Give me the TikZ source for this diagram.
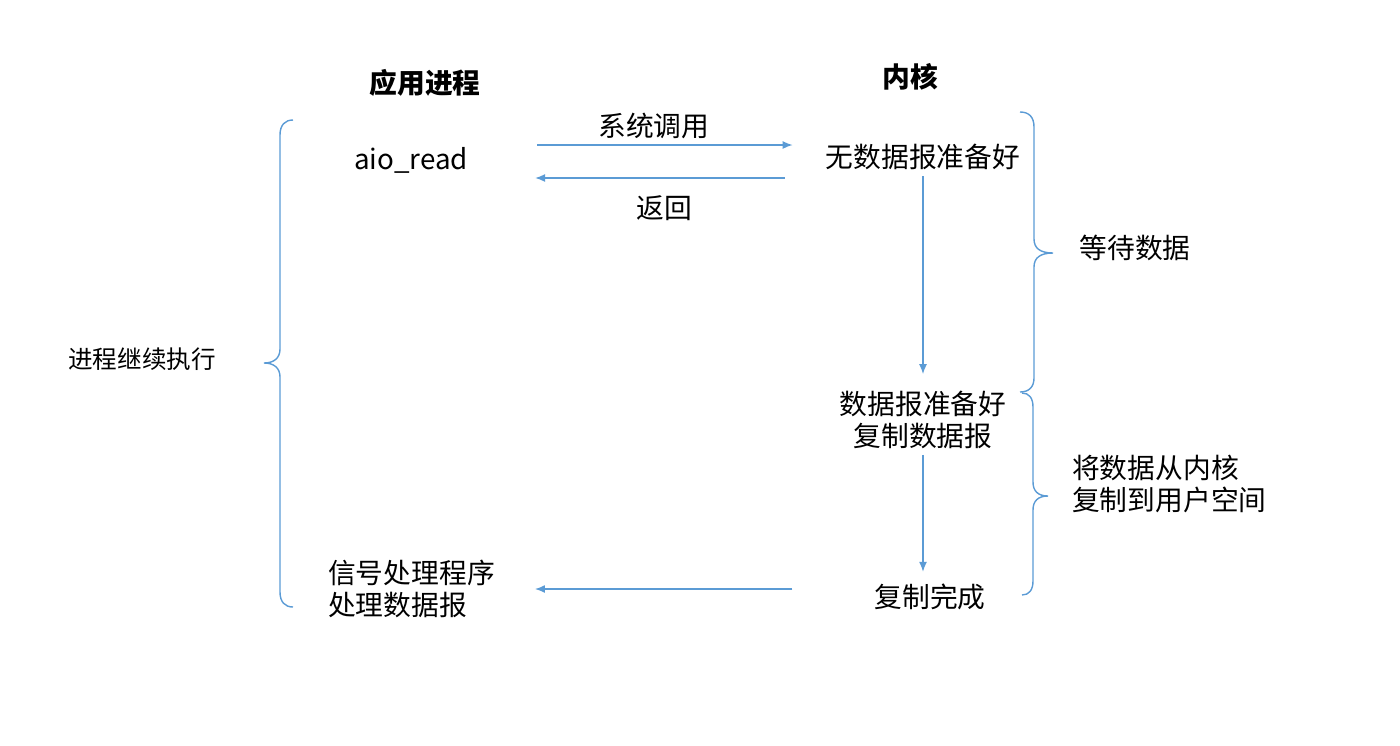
\documentclass[tikz,border=0pt]{standalone}
\usepackage{fontspec}
\setmainfont{Noto Sans CJK SC}
\usepackage{xcolor}
\usetikzlibrary{arrows.meta,positioning,calc}
\definecolor{lineblue}{RGB}{91,155,213}

\begin{document}
\begin{tikzpicture}[x=0.02cm, y=-0.02cm,
  flow/.style={draw=lineblue, line width=0.8pt, -{Latex[length=2mm,width=1.6mm]}},
  curly/.style={draw=lineblue, line width=0.8pt},
  txt/.style={font=\fontsize{15.8}{18}\selectfont}]
\useasboundingbox (0,0) rectangle (1400,745);

% Titoli
\node[font=\bfseries\fontsize{15.8}{18}\selectfont] (app) at (425,83) {应用进程};
\node[font=\bfseries\fontsize{15.8}{18}\selectfont] (kern) at (910,77) {内核};

% Processo e kernel
\node[txt] (aio) at (411,160) {aio\_read};
\node[txt] (nodata) at (923,157) {无数据报准备好};
\node[txt, align=center] (ready) at (923,420) {数据报准备好\\复制数据报};
\node[txt] (done) at (930,597) {复制完成};
\node[txt, align=left, anchor=west] (signal) at (322,589) {信号处理程序\\处理数据报};

% Frecce
\draw[flow, shorten <=1.26cm, shorten >=0.54cm] ([yshift=0.3cm]aio.east) -- node[pos=0.52, above] {\fontsize{15.8}{18}\selectfont 系统调用} ([yshift=0.3cm]aio.east -| nodata.west);
\draw[flow, shorten <=0.7cm, shorten >=1.22cm] ([yshift=-0.36cm]aio.east -| nodata.west) -- node[pos=0.45, below=0.22cm] {\fontsize{15.8}{18}\selectfont 返回} ([yshift=-0.36cm]aio.east);
\draw[flow, shorten >=0.22cm] (nodata) -- (ready);
\draw[flow, shorten >=0.12cm] (ready.south) -- (ready.south |- done.north);
\draw[flow, shorten <=1.52cm, shorten >=0.68cm] (done.west |- signal.east) -- (signal.east);

% Parentesi
\draw[curly] (293,120) .. controls (285,120) and (280,125) .. (280,135) -- (280,349)
  .. controls (280,358) and (274,363) .. (264,363) .. controls (274,363) and (280,368) .. (280,377)
  -- (280,592) .. controls (280,602) and (285,607) .. (293,607);
\node[font=\fontsize{14}{17}\selectfont] (cont) at (142,359) {进程继续执行};

\draw[curly] (1020,112) .. controls (1029,112) and (1034,117) .. (1034,127) -- (1034,239)
  .. controls (1034,248) and (1040,253) .. (1053,253) .. controls (1040,253) and (1034,258) .. (1034,267)
  -- (1034,378) .. controls (1034,387) and (1029,392) .. (1020,392);
\node[txt] (wait) at (1135,248) {等待数据};

\draw[curly] (1022,393) .. controls (1029,393) and (1033,398) .. (1033,407) -- (1033,482)
  .. controls (1033,491) and (1038,496) .. (1048,496) .. controls (1038,496) and (1033,501) .. (1033,510)
  -- (1033,581) .. controls (1033,590) and (1029,595) .. (1022,595);
\node[txt, align=left, anchor=west] (copy) at (1066,484) {将数据从内核\\复制到用户空间};
\end{tikzpicture}
\end{document}
